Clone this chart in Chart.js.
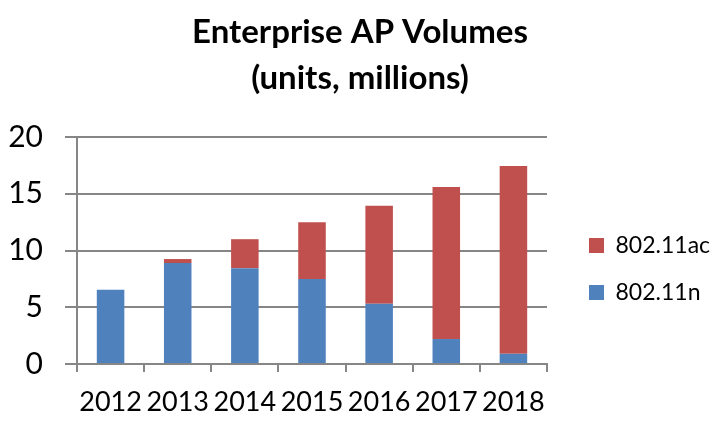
<!DOCTYPE html>
<html>
<head>
<meta charset="utf-8">
<title>Enterprise AP Volumes</title>
<script src="https://cdn.jsdelivr.net/npm/chart.js@4.4.1/dist/chart.umd.min.js"></script>
<style>
  html, body { margin: 0; padding: 0; background: #fff; }
  #apChart { display: block; }
</style>
</head>
<body>
<canvas id="apChart" width="712" height="430"></canvas>
<script>
// chart data (millions of units)
const years = ['2012', '2013', '2014', '2015', '2016', '2017', '2018'];
const n80211 = [6.55, 8.9, 8.45, 7.5, 5.3, 2.2, 0.9];
const ac80211 = [0, 0.35, 2.55, 5.0, 8.65, 13.4, 16.55];
const yTicks = [0, 5, 10, 15, 20];

const FONT = 'Lato, "Open Sans", sans-serif';
const GRID = '#868686';

// wider legend box, items drawn a bit further right (gap from plot)
const legendGap = {
    id: 'legendGap',
    beforeInit(chart) {
        const legend = chart.legend;
        const fit = legend.fit;
        const draw = legend.draw;
        legend.fit = function () {
            fit.call(this);
            this.width = 165;
        };
        legend.draw = function () {
            this.ctx.save();
            this.ctx.translate(18, 0);
            draw.call(this);
            this.ctx.restore();
        };
    }
};

const ctx = document.getElementById('apChart');

new Chart(ctx, {
    type: 'bar',
    data: {
        labels: years,
        datasets: [
            {
                label: '802.11n',
                data: n80211,
                backgroundColor: '#4F81BD',
                barPercentage: 0.41,
                categoryPercentage: 1.0
            },
            {
                label: '802.11ac',
                data: ac80211,
                backgroundColor: '#C0504D',
                barPercentage: 0.41,
                categoryPercentage: 1.0
            }
        ]
    },
    plugins: [legendGap],
    options: {
        responsive: false,
        animation: false,
        layout: {
            padding: { left: 8, right: 0, top: 8, bottom: 12 }
        },
        plugins: {
            title: {
                display: true,
                text: ['Enterprise AP Volumes', '(units, millions)'],
                color: '#000',
                font: { family: FONT, size: 33, weight: 'bold', lineHeight: 1.38 },
                padding: { top: 2, bottom: 36 }
            },
            legend: {
                position: 'right',
                reverse: true,
                title: {
                    display: true,
                    text: ' ',
                    font: { family: FONT, size: 20 },
                    padding: { top: 44, bottom: 44 }
                },
                labels: {
                    color: '#000',
                    font: { family: FONT, size: 23 },
                    boxWidth: 15,
                    boxHeight: 15,
                    padding: 24
                }
            },
            tooltip: { enabled: false }
        },
        scales: {
            x: {
                stacked: true,
                afterFit: axis => {
                    axis.height = 54;
                },
                border: { color: GRID, width: 2 },
                grid: {
                    offset: true,
                    drawOnChartArea: false,
                    color: GRID,
                    lineWidth: 2,
                    tickLength: 8
                },
                ticks: {
                    color: '#000',
                    font: { family: FONT, size: 27 },
                    padding: 14,
                    maxRotation: 0,
                    autoSkip: false
                }
            },
            y: {
                stacked: true,
                min: 0,
                max: 20,
                afterBuildTicks: axis => {
                    axis.ticks = yTicks.map(v => ({ value: v }));
                },
                afterFit: axis => {
                    axis.width = 69;
                },
                border: { color: GRID, width: 2 },
                grid: {
                    color: GRID,
                    lineWidth: 2,
                    tickLength: 12
                },
                ticks: {
                    color: '#000',
                    font: { family: FONT, size: 30 },
                    padding: 22
                }
            }
        }
    }
});
</script>
</body>
</html>
